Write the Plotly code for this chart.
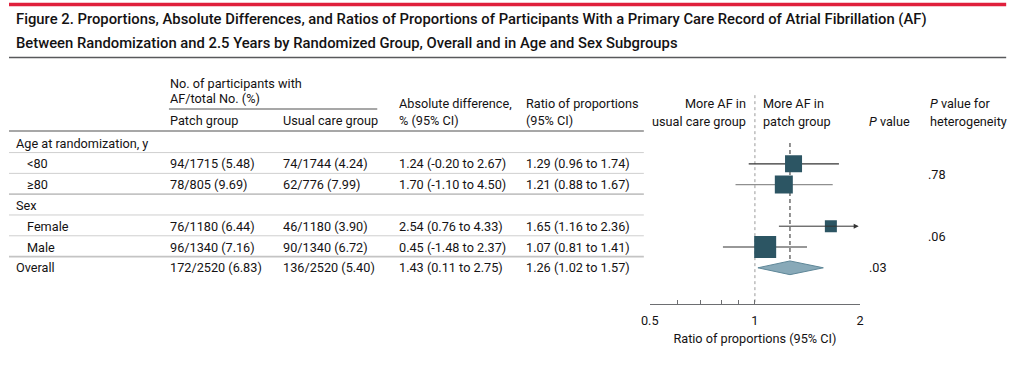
import math
import plotly.graph_objects as go

W, H = 1024, 365

# ---------------- data ----------------
title_lines = [
    "Figure 2. Proportions, Absolute Differences, and Ratios of Proportions of Participants With a Primary Care Record of Atrial Fibrillation (AF)",
    "Between Randomization and 2.5 Years by Randomized Group, Overall and in Age and Sex Subgroups",
]
row_labels = ["Age at randomization, y", "<80", "≥80", "Sex", "Female", "Male", "Overall"]
row_indent = [False, True, True, False, True, True, False]

patch_events = [None, 94, 78, None, 76, 96, 172]
patch_totals = [None, 1715, 805, None, 1180, 1340, 2520]
usual_events = [None, 74, 62, None, 46, 90, 136]
usual_totals = [None, 1744, 776, None, 1180, 1340, 2520]

abs_diff = [None, 1.24, 1.70, None, 2.54, 0.45, 1.43]
abs_lo = [None, -0.20, -1.10, None, 0.76, -1.48, 0.11]
abs_hi = [None, 2.67, 4.50, None, 4.33, 2.37, 2.75]

ratio = [None, 1.29, 1.21, None, 1.65, 1.07, 1.26]
ratio_lo = [None, 0.96, 0.88, None, 1.16, 0.81, 1.02]
ratio_hi = [None, 1.74, 1.67, None, 2.36, 1.41, 1.57]
is_overall = [False, False, False, False, False, False, True]

p_value_rows = [6]
p_value_text = [".03"]
p_het_rows = [1.5, 4.5]
p_het_text = [".78", ".06"]

axis_tickvals = [0.5, 0.6, 0.7, 0.8, 0.9, 1, 2]
axis_ticktext = ["0.5", "", "", "", "", "1", "2"]
axis_min, axis_max = 0.5, 2

# ---------------- styles ----------------
box_px = [None, 17, 18, None, 12, 22, None]
ci_colors = [None, "#333333", "#8f8f8f", None, "#333333", "#333333", None]
FONT = "Roboto"
TXT = "#141213"
BODY = 12.7
SQ = "#2c5563"
DIA_FILL = "#88a9b8"
DIA_LINE = "#5f8798"


def px(x):
    return x / W


def py(y):
    return 1 - y / H


# row i sits at pixel 143 + 20.8 * i
Y_TOP_PX, Y_BOT_PX = 90, 304
ROW0, ROWH = 143, 20.8
y_range = [(Y_BOT_PX - ROW0) / ROWH, (Y_TOP_PX - ROW0) / ROWH]

fig = go.Figure()

# dotted line at ratio = 1
fig.add_trace(go.Scatter(x=[1, 1], y=[-2.3, y_range[0]], mode="lines",
                         line=dict(color="#9a9a9a", width=1, dash="dot"),
                         hoverinfo="skip", showlegend=False))
# dashed line at overall estimate
ov = is_overall.index(True)
fig.add_trace(go.Scatter(x=[ratio[ov], ratio[ov]], y=[0, ov - 0.33], mode="lines",
                         line=dict(color="#4a4a4a", width=1.2, dash="4px,3px"),
                         hoverinfo="skip", showlegend=False))

annotations = []
for i in range(len(row_labels)):
    if ratio[i] is None:
        continue
    if is_overall[i]:
        h = 0.33
        fig.add_trace(go.Scatter(
            x=[ratio_lo[i], ratio[i], ratio_hi[i], ratio[i], ratio_lo[i]],
            y=[i, i - h, i, i + h, i], mode="lines", fill="toself",
            fillcolor=DIA_FILL, line=dict(color=DIA_LINE, width=1),
            hoverinfo="skip", showlegend=False))
        continue
    hi = ratio_hi[i]
    if hi > axis_max:
        annotations.append(dict(
            x=math.log10(axis_max) - 0.004, y=i, xref="x", yref="y",
            ax=math.log10(ratio_lo[i]), ay=i, axref="x", ayref="y",
            showarrow=True, arrowhead=2, arrowsize=1, arrowwidth=1,
            arrowcolor="#333333", text=""))
    else:
        fig.add_trace(go.Scatter(x=[ratio_lo[i], hi], y=[i, i], mode="lines",
                                 line=dict(color=ci_colors[i], width=1.2),
                                 hoverinfo="skip", showlegend=False))
    fig.add_trace(go.Scatter(x=[ratio[i]], y=[i], mode="markers",
                             marker=dict(symbol="square", size=box_px[i], color=SQ,
                                         line=dict(width=0)),
                             hoverinfo="skip", showlegend=False))


def txt(x, y, s, yref="paper", anchor="left", size=BODY, color=TXT, weight=None):
    f = dict(family=FONT, size=size, color=color)
    if weight:
        f["weight"] = weight
    annotations.append(dict(x=px(x), y=y, xref="paper", yref=yref, text=s,
                            showarrow=False, xanchor=anchor, yanchor="middle",
                            borderpad=0, font=f))


# title
txt(6, py(19), title_lines[0], size=14.8, weight=500)
txt(6, py(43), title_lines[1], size=14.8, weight=500)

# table headers
txt(162, py(83), "No. of participants with")
txt(162, py(98), "AF/total No. (%)")
txt(162, py(120), "Patch group")
txt(277, py(120), "Usual care group")
txt(394, py(103), "Absolute difference,")
txt(394, py(120), "% (95% CI)")
txt(523, py(103), "Ratio of proportions")
txt(523, py(120), "(95% CI)")
txt(747, py(103), "More AF in", anchor="right")
txt(747, py(121), "usual care group", anchor="right")
txt(763, py(103), "More AF in")
txt(763, py(121), "patch group")
txt(870, py(121), "<i>P</i> value")
txt(932, py(103), "<i>P</i> value for")
txt(932, py(121), "heterogeneity")


def fmt_n(e, t):
    return f"{e}/{t} ({100 * e / t:.2f})"


def fmt_ci(v, lo, hi):
    f = lambda a: f"{a:.2f}"
    return f"{f(v)} ({f(lo)} to {f(hi)})"


for i, lab in enumerate(row_labels):
    txt(17 if row_indent[i] else 6, i, lab, yref="y")
    if patch_events[i] is not None:
        txt(162, i, fmt_n(patch_events[i], patch_totals[i]), yref="y")
        txt(277, i, fmt_n(usual_events[i], usual_totals[i]), yref="y")
        txt(394, i, fmt_ci(abs_diff[i], abs_lo[i], abs_hi[i]), yref="y")
        txt(523, i, fmt_ci(ratio[i], ratio_lo[i], ratio_hi[i]), yref="y")

for r, s in zip(p_value_rows, p_value_text):
    txt(870, r, s, yref="y")
for r, s in zip(p_het_rows, p_het_text):
    txt(930, r, s, yref="y")

shapes = []
# top red rule and title rule
shapes.append(dict(type="line", xref="paper", yref="paper", x0=0, x1=px(1010),
                   y0=py(4.5), y1=py(4.5), line=dict(color="#e0203c", width=3.5)))
shapes.append(dict(type="line", xref="paper", yref="paper", x0=0, x1=px(1010),
                   y0=py(57.5), y1=py(57.5), line=dict(color="#58595b", width=1.3)))
# header rules
shapes.append(dict(type="line", xref="paper", yref="paper", x0=px(162), x1=px(373),
                   y0=py(109), y1=py(109), line=dict(color="#8a8a8a", width=1.3)))
shapes.append(dict(type="line", xref="paper", yref="paper", x0=0, x1=px(643),
                   y0=py(131), y1=py(131), line=dict(color="#8a8a8a", width=1.6)))
# row separators
for i in range(len(row_labels) - 1):
    group_break = row_indent[i] and not row_indent[i + 1]
    shapes.append(dict(type="line", xref="paper", yref="y", x0=0, x1=px(643),
                       y0=i + 0.46, y1=i + 0.46,
                       line=dict(color="#cfcfcf" if not group_break else "#c4c4c4",
                                 width=1 if not group_break else 1.8)))

fig.update_layout(
    width=W, height=H, margin=dict(l=0, r=0, t=0, b=0, pad=0), autosize=False,
    paper_bgcolor="white", plot_bgcolor="white",
    annotations=annotations, shapes=shapes, showlegend=False,
    xaxis=dict(type="log", range=[math.log10(axis_min), math.log10(axis_max)],
               domain=[px(649), px(862)], anchor="y",
               tickvals=axis_tickvals, ticktext=axis_ticktext,
               ticks="inside", ticklen=4, tickwidth=1.4, tickcolor="#6d6e71",
               showline=True, linecolor="#6d6e71", linewidth=1.4,
               showgrid=False, zeroline=False, ticklabelstandoff=5,
               tickfont=dict(family=FONT, size=BODY, color=TXT),
               title=dict(text="Ratio of proportions (95% CI)", standoff=6,
                          font=dict(family=FONT, size=BODY, color=TXT))),
    yaxis=dict(range=y_range, domain=[py(Y_BOT_PX), py(Y_TOP_PX)], visible=False,
               showgrid=False, zeroline=False),
)

fig.write_html(
    "out.html",
    config={"responsive": False, "displayModeBar": False},
    post_script="document.body.style.margin='0';document.body.style.overflow='hidden';"
                "document.documentElement.style.overflow='hidden';",
)
